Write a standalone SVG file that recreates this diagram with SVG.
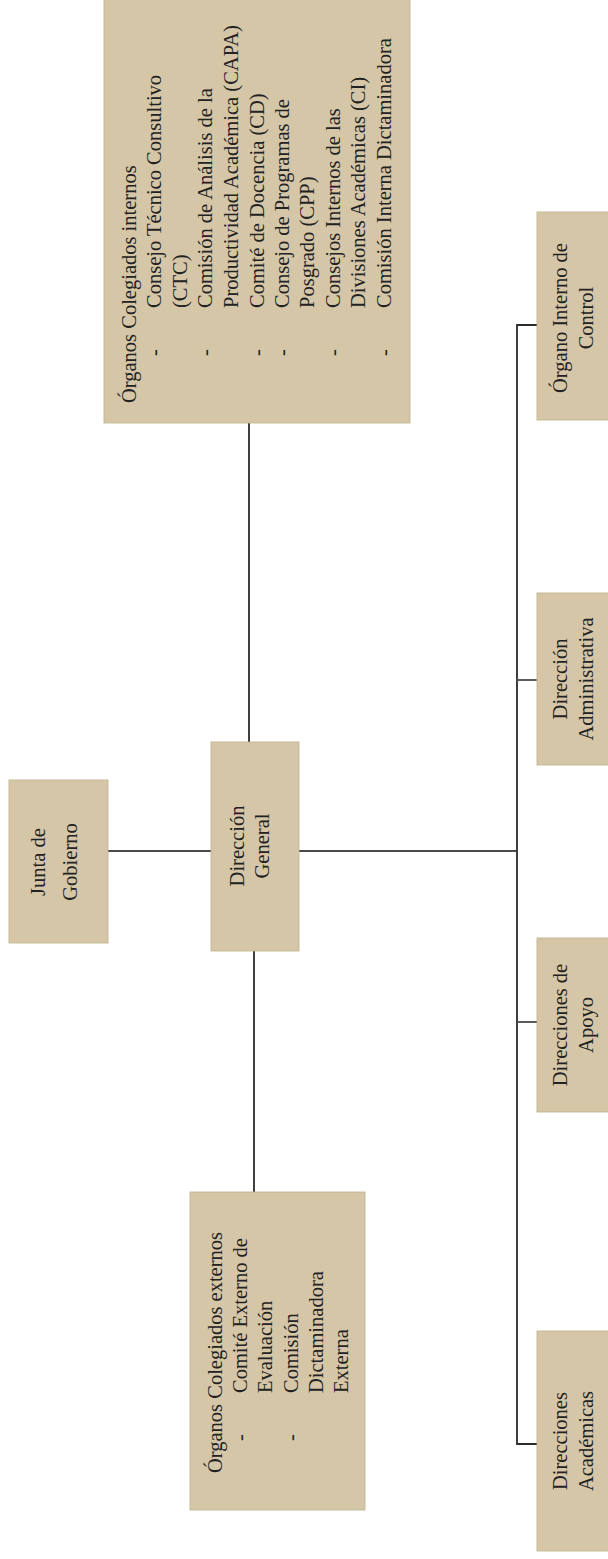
<svg xmlns="http://www.w3.org/2000/svg" width="608" height="1559" viewBox="0 0 608 1559">
<style>
.box{fill:#d5c6a8;stroke:#bfae8c;stroke-width:0.8}
.t{font-family:"Liberation Serif","Times New Roman",serif;font-size:20.5px;fill:#222}
.m{text-anchor:middle}
.conn{fill:none;stroke:#2b2b2b;stroke-width:1.8}
.h{stroke:#4a4a4a}
</style>
<rect x="0" y="0" width="608" height="1559" fill="#ffffff"/>
<g id="connectors">
<path class="conn" d="M249,423 V742"/>
<path class="conn h" d="M108,851 H211"/>
<path class="conn h" d="M299,851 H517"/>
<path class="conn" d="M254,951 V1192"/>
<path class="conn" d="M537,325 H517 V1444 H537"/>
<path class="conn h" d="M517,680 H537"/>
<path class="conn h" d="M517,1022 H537"/>
</g>
<g id="organos-internos">
<rect class="box" x="104" y="-5" width="306" height="428"/>
<text class="t" transform="translate(136,403) rotate(-90)">Órganos Colegiados internos</text>
<text class="t" transform="translate(161,356) rotate(-90)">-</text>
<text class="t" transform="translate(161,308) rotate(-90)">Consejo Técnico Consultivo</text>
<text class="t" transform="translate(187,308) rotate(-90)">(CTC)</text>
<text class="t" transform="translate(212,356) rotate(-90)">-</text>
<text class="t" transform="translate(212,308) rotate(-90)">Comisión de Análisis de la</text>
<text class="t" transform="translate(238,308) rotate(-90)">Productividad Académica (CAPA)</text>
<text class="t" transform="translate(264,356) rotate(-90)">-</text>
<text class="t" transform="translate(264,308) rotate(-90)">Comité de Docencia (CD)</text>
<text class="t" transform="translate(289,356) rotate(-90)">-</text>
<text class="t" transform="translate(289,308) rotate(-90)">Consejo de Programas de</text>
<text class="t" transform="translate(314,308) rotate(-90)">Posgrado (CPP)</text>
<text class="t" transform="translate(340,356) rotate(-90)">-</text>
<text class="t" transform="translate(340,308) rotate(-90)">Consejos Internos de las</text>
<text class="t" transform="translate(365,308) rotate(-90)">Divisiones Académicas (CI)</text>
<text class="t" transform="translate(391,356) rotate(-90)">-</text>
<text class="t" transform="translate(391,308) rotate(-90)">Comisión Interna Dictaminadora</text>
</g>
<g id="direccion-general">
<rect class="box" x="211" y="742" width="88" height="209"/>
<text class="t m" transform="translate(244,846) rotate(-90)">Dirección</text>
<text class="t m" transform="translate(269,846) rotate(-90)">General</text>
</g>
<g id="junta-gobierno">
<rect class="box" x="9" y="780" width="99" height="163"/>
<text class="t m" transform="translate(45,862) rotate(-90)">Junta de</text>
<text class="t m" transform="translate(77,862) rotate(-90)">Gobierno</text>
</g>
<g id="organos-externos">
<rect class="box" x="190" y="1192" width="175" height="318"/>
<text class="t" transform="translate(222,1473) rotate(-90)">Órganos Colegiados externos</text>
<text class="t" transform="translate(247,1441) rotate(-90)">-</text>
<text class="t" transform="translate(247,1393) rotate(-90)">Comité Externo de</text>
<text class="t" transform="translate(272,1393) rotate(-90)">Evaluación</text>
<text class="t" transform="translate(298,1441) rotate(-90)">-</text>
<text class="t" transform="translate(298,1393) rotate(-90)">Comisión</text>
<text class="t" transform="translate(323,1393) rotate(-90)">Dictaminadora</text>
<text class="t" transform="translate(348,1393) rotate(-90)">Externa</text>
</g>
<g id="organo-interno-control">
<rect class="box" x="537" y="212" width="75" height="208"/>
<text class="t m" transform="translate(567,318) rotate(-90)">Órgano Interno de</text>
<text class="t m" transform="translate(593,318) rotate(-90)">Control</text>
</g>
<g id="direccion-administrativa">
<rect class="box" x="537" y="593" width="75" height="172"/>
<text class="t m" transform="translate(567,679) rotate(-90)">Dirección</text>
<text class="t m" transform="translate(593,679) rotate(-90)">Administrativa</text>
</g>
<g id="direcciones-apoyo">
<rect class="box" x="537" y="938" width="75" height="174"/>
<text class="t m" transform="translate(567,1025) rotate(-90)">Direcciones de</text>
<text class="t m" transform="translate(593,1025) rotate(-90)">Apoyo</text>
</g>
<g id="direcciones-academicas">
<rect class="box" x="537" y="1331" width="75" height="220"/>
<text class="t m" transform="translate(567,1441) rotate(-90)">Direcciones</text>
<text class="t m" transform="translate(593,1441) rotate(-90)">Académicas</text>
</g>
</svg>
